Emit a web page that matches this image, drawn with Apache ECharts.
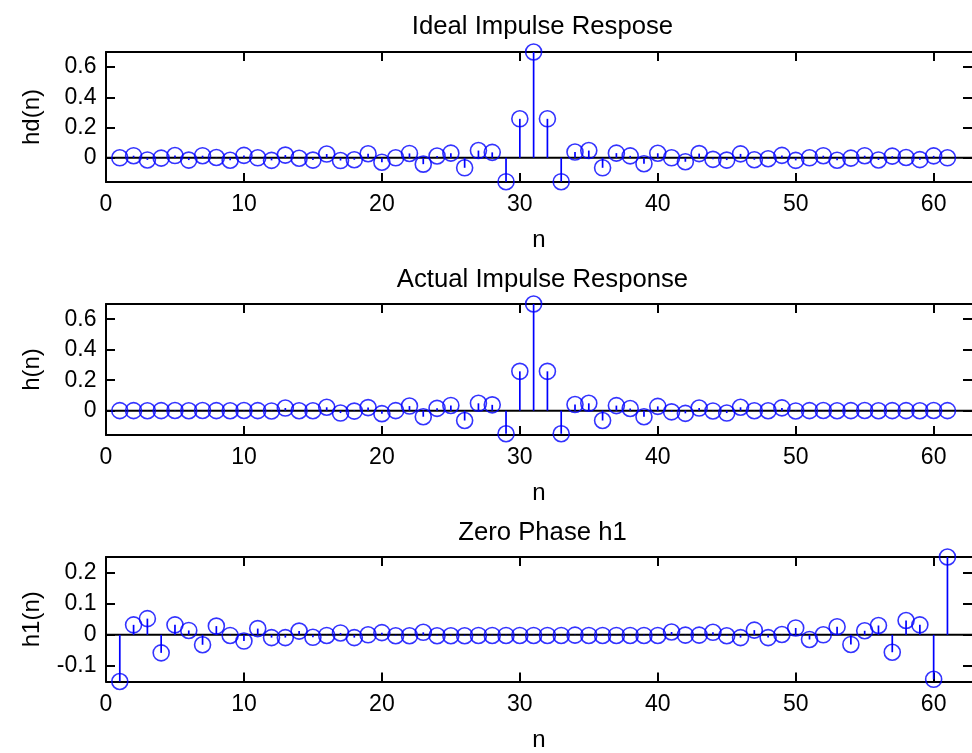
<!DOCTYPE html>
<html>
<head>
<meta charset="utf-8">
<script src="https://cdn.jsdelivr.net/npm/echarts@6/dist/echarts.min.js"></script>
<style>
html,body{margin:0;padding:0;background:#ffffff;}
#chart{width:972px;height:753px;}
</style>
</head>
<body>
<div id="chart"></div>
<script>
// ---------------- data ----------------
const n = [1,2,3,4,5,6,7,8,9,10,11,12,13,14,15,16,17,18,19,20,
           21,22,23,24,25,26,27,28,29,30,31,32,33,34,35,36,37,38,39,40,
           41,42,43,44,45,46,47,48,49,50,51,52,53,54,55,56,57,58,59,60,61];

const hd = [0.000,0.014,-0.014,-0.002,0.015,-0.015,0.014,0.002,-0.016,0.016,
            0.000,-0.017,0.018,-0.003,-0.015,0.025,-0.018,-0.013,0.027,-0.029,
            0.000,0.029,-0.042,0.012,0.031,-0.066,0.048,0.036,-0.158,0.258,
            0.700,
            0.258,-0.158,0.038,0.048,-0.066,0.031,0.013,-0.039,0.030,0.000,
            -0.026,0.028,-0.010,-0.015,0.026,-0.013,-0.006,0.016,-0.017,0.000,
            0.014,-0.016,-0.002,0.014,-0.014,0.011,0.002,-0.012,0.013,0.000];

const h = [0.000,0.000,-0.001,0.000,0.001,-0.001,0.001,0.000,-0.001,0.001,
           0.000,-0.002,0.017,-0.001,-0.001,0.022,-0.016,-0.003,0.020,-0.020,
           0.000,0.030,-0.040,0.015,0.034,-0.065,0.048,0.038,-0.152,0.258,
           0.700,
           0.258,-0.152,0.040,0.048,-0.065,0.033,0.014,-0.040,0.028,-0.008,
           -0.018,0.017,-0.002,-0.016,0.022,-0.001,-0.001,0.018,-0.002,0.000,
           0.001,-0.001,0.000,0.001,-0.001,0.000,0.000,-0.001,0.001,0.000];

const h1 = [-0.150,0.032,0.052,-0.058,0.032,0.014,-0.032,0.028,-0.002,-0.020,
            0.020,-0.009,-0.009,0.012,-0.008,-0.002,0.006,-0.009,0.000,0.007,
            -0.003,-0.003,0.008,-0.003,-0.003,-0.003,-0.002,-0.002,-0.002,-0.002,
            -0.002,-0.002,-0.002,-0.001,-0.002,-0.002,-0.002,-0.002,-0.002,-0.002,
            0.009,-0.001,-0.001,0.008,-0.003,-0.009,0.015,-0.009,0.001,0.022,
            -0.015,0.000,0.026,-0.031,0.013,0.030,-0.056,0.046,0.032,-0.143,0.250];

const xTicks = [0,10,20,30,40,50,60];
const yTicksA = [0,0.2,0.4,0.6];
const yTicksB = [0,0.2,0.4,0.6];
const yTicksC = [-0.1,0,0.1,0.2];
const titles = ['Ideal Impulse Respose','Actual Impulse Response','Zero Phase h1'];
const yNames = ['hd(n)','h(n)','h1(n)'];
const xName = 'n';
const yRanges = [[-0.16,0.7],[-0.16,0.7],[-0.15,0.25]];
const xRange = [0,62.78];

// ---------------- layout / style ----------------
const seriesVals = [hd, h, h1];
const yTickSets = [yTicksA, yTicksB, yTicksC];
const layout = [
  {top:52, height:130, titleTop:9},
  {top:304, height:131, titleTop:261.5},
  {top:557, height:128, titleTop:515}
];
const GL = 106, GW = 866;
const BLUE = '#0000ff';
const AX = {show:true, onZero:false, lineStyle:{color:'#000', width:2}};
const AXR = {show:false, onZero:false};
const tickStyle = {color:'#000', width:2};
const FONT = 'Liberation Sans, Arial, sans-serif';

const grid = [], xAxis = [], yAxis = [], series = [], title = [];

layout.forEach((L, i) => {
  grid.push({left:GL, top:L.top, width:GW, height:L.height, containLabel:false});
  title.push({
    text: titles[i], left: 537.5, top: L.titleTop, textAlign:'center',
    textStyle:{fontFamily:FONT, fontSize:25.7, fontWeight:'normal', color:'#000'}
  });
  // bottom x axis
  xAxis.push({
    type:'value', gridIndex:i, position:'bottom', min:xRange[0], max:xRange[1],
    axisLine:AX, splitLine:{show:false},
    axisTick:{show:true, inside:true, length:9, lineStyle:tickStyle, customValues:xTicks},
    axisLabel:{show:true, customValues:xTicks, margin:11.5, color:'#000', fontFamily:FONT, fontSize:23},
    name:xName, nameLocation:'middle', nameGap:46.5,
    nameTextStyle:{fontFamily:FONT, fontSize:24, color:'#000'}
  });
  // top mirror axis
  xAxis.push({
    type:'value', gridIndex:i, position:'top', min:xRange[0], max:xRange[1],
    axisLine:AX, splitLine:{show:false},
    axisTick:{show:true, inside:true, length:9, lineStyle:tickStyle, customValues:xTicks},
    axisLabel:{show:false}
  });
  // left y axis
  yAxis.push({
    type:'value', gridIndex:i, position:'left', min:yRanges[i][0], max:yRanges[i][1],
    axisLine:AX, splitLine:{show:false},
    axisTick:{show:true, inside:true, length:9, lineStyle:tickStyle, customValues:yTickSets[i]},
    axisLabel:{show:true, customValues:yTickSets[i], margin:9.5, color:'#000', fontFamily:FONT, fontSize:23},
    name:yNames[i], nameLocation:'middle', nameGap:62,
    nameTextStyle:{fontFamily:FONT, fontSize:24, color:'#000'}
  });
  // right mirror axis (its line falls just outside the picture)
  yAxis.push({
    type:'value', gridIndex:i, position:'right', min:yRanges[i][0], max:yRanges[i][1],
    axisLine:AXR, splitLine:{show:false},
    axisTick:{show:true, inside:true, length:9, lineStyle:tickStyle, customValues:yTickSets[i]},
    axisLabel:{show:false}
  });

  const pts = n.map((x, j) => [x, seriesVals[i][j]]);
  // baseline
  series.push({
    type:'line', xAxisIndex:2*i, yAxisIndex:2*i, data:[[xRange[0],0],[xRange[1],0]],
    symbol:'none', lineStyle:{color:'#000', width:2}, silent:true, z:1
  });
  // stems
  series.push({
    type:'custom', xAxisIndex:2*i, yAxisIndex:2*i, data:pts, clip:false, silent:true, z:2,
    renderItem:function(params, api){
      const x = api.value(0), y = api.value(1);
      const p0 = api.coord([x,0]), p1 = api.coord([x,y]);
      return {type:'line', shape:{x1:p0[0], y1:p0[1], x2:p1[0], y2:p1[1]},
              style:{stroke:BLUE, lineWidth:1.7}};
    }
  });
  // circles
  series.push({
    type:'scatter', xAxisIndex:2*i, yAxisIndex:2*i, data:pts, clip:false, silent:true, z:3,
    symbol:'circle', symbolSize:16,
    itemStyle:{color:'rgba(0,0,0,0)', borderColor:BLUE, borderWidth:1.6}
  });
});

const chart = echarts.init(document.getElementById('chart'), null, {renderer:'canvas'});
chart.setOption({
  backgroundColor:'#ffffff',
  animation:false,
  title, grid, xAxis, yAxis, series
});
</script>
</body>
</html>
